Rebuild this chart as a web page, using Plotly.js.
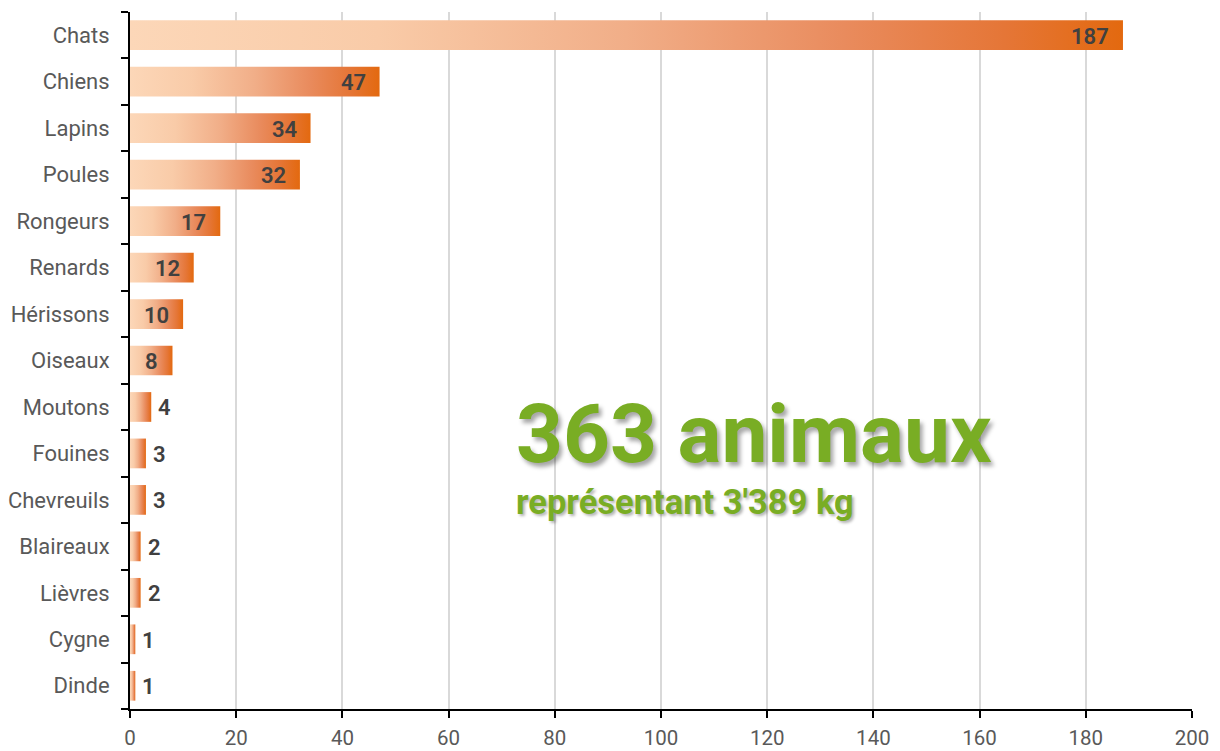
<!DOCTYPE html>
<html>
<head>
<meta charset="utf-8">
<script src="https://cdn.plot.ly/plotly-3.0.1.min.js"></script>
<style>html,body{margin:0;padding:0;background:#fff;}#chart{width:1220px;height:751px;}</style>
</head>
<body>
<div id="chart"></div>
<script>
// Data
const categories = ["Chats","Chiens","Lapins","Poules","Rongeurs","Renards","Hérissons","Oiseaux","Moutons","Fouines","Chevreuils","Blaireaux","Lièvres","Cygne","Dinde"];
const counts = [187, 47, 34, 32, 17, 12, 10, 8, 4, 3, 3, 2, 2, 1, 1];
const xTicks = [0, 20, 40, 60, 80, 100, 120, 140, 160, 180, 200];
const headline = "363 animaux";
const subline = "représentant 3'389 kg";

// Style
const grad = [[0,'#fcd7b8'],[0.25,'#f9cba8'],[0.5,'#f1ae88'],[0.72,'#e98b5d'],[0.88,'#e57637'],[1,'#e3690f']];
const half = 0.32;
const labelFont = {family: 'Roboto, "Open Sans", sans-serif', size: 22, color: '#595959'};
const xTickFont = {family: 'Roboto, "Open Sans", sans-serif', size: 20.5, color: '#595959'};
const valueFont = {family: 'Roboto, "Open Sans", sans-serif', size: 22, color: '#404040', weight: 600};
const green = '#79ad24';

const idx = categories.map((_, i) => i);
const traces = categories.map((c, i) => {
  const v = counts[i];
  return {
    type: 'scatter', mode: 'lines',
    x: [0, v, v, 0, 0],
    y: [i - half, i - half, i + half, i + half, i - half],
    fill: 'toself',
    fillgradient: {type: 'horizontal', colorscale: grad},
    line: {width: 0, color: 'rgba(0,0,0,0)'},
    hoverinfo: 'skip', showlegend: false, name: c
  };
});

const annotations = categories.map((c, i) => {
  const v = counts[i];
  const inside = v >= 8;
  return {
    x: v, y: i, xref: 'x', yref: 'y', text: String(v), showarrow: false,
    xanchor: inside ? 'right' : 'left', xshift: inside ? -12 : 5, yshift: -1,
    font: valueFont
  };
});
annotations.push({
  xref: 'paper', yref: 'paper', x: 0.362, y: 0.394, xanchor: 'left', yanchor: 'middle',
  text: headline, showarrow: false,
  font: {family: 'Roboto, sans-serif', size: 82, color: green, weight: 700, shadow: '3px 4px 4px rgba(0,0,0,0.35)'}
});
annotations.push({
  xref: 'paper', yref: 'paper', x: 0.362, y: 0.297, xanchor: 'left', yanchor: 'middle',
  text: subline, showarrow: false,
  font: {family: 'Roboto, sans-serif', size: 34.5, color: green, weight: 700, shadow: '2px 2px 3px rgba(0,0,0,0.3)'}
});

const layout = {
  width: 1220, height: 751,
  margin: {l: 130, r: 28, t: 12, b: 42, pad: 0},
  paper_bgcolor: '#ffffff', plot_bgcolor: '#ffffff',
  showlegend: false,
  xaxis: {
    range: [0, 200], tickmode: 'array', tickvals: xTicks, ticktext: xTicks.map(String),
    showgrid: true, gridcolor: '#d9d9d9', gridwidth: 2,
    showline: true, linecolor: '#000000', linewidth: 2,
    ticks: 'outside', ticklen: 7, tickwidth: 2, tickcolor: '#000000',
    tickfont: xTickFont, ticklabelstandoff: 2,
    zeroline: false, fixedrange: true
  },
  yaxis: {
    range: [categories.length - 0.5, -0.5],
    tickmode: 'array', tickvals: idx, ticktext: categories,
    ticks: '', showgrid: false, zeroline: false,
    showline: true, linecolor: '#000000', linewidth: 2,
    tickfont: labelFont, ticklabelstandoff: 14,
    minor: {tickmode: 'linear', tick0: 0.5, dtick: 1, ticks: 'outside', ticklen: 7, tickwidth: 2, tickcolor: '#000000', showgrid: false},
    fixedrange: true
  },
  annotations: annotations
};

Plotly.newPlot('chart', traces, layout, {displayModeBar: false, staticPlot: true});
</script>
</body>
</html>
